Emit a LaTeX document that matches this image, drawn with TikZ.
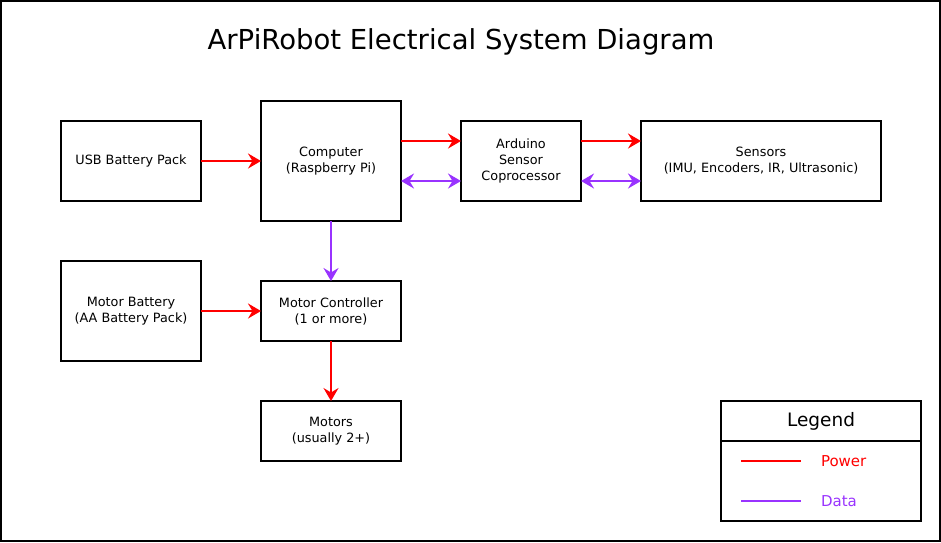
\documentclass[tikz,border=0pt]{standalone}
\usepackage{fontspec}
\setmainfont{DejaVu Sans}
\usetikzlibrary{arrows.meta}
\definecolor{power}{HTML}{FF0000}
\definecolor{data}{HTML}{9933FF}
\begin{document}
\begin{tikzpicture}[x=1pt, y=-1pt]
        \tikzstyle{every node}=[inner sep=0pt, outer sep=0pt]
        \tikzstyle{block}=[draw, line width=2pt, align=center, font=\fontsize{12.8}{16}\selectfont]
        \tikzstyle{pwr}=[draw=power, line width=2pt, -{Stealth[length=13pt, width=15pt, inset=4.5pt]}]
        \tikzstyle{dat}=[draw=data, line width=2pt, -{Stealth[length=13pt, width=15pt, inset=4.5pt]}]
        \tikzstyle{datboth}=[dat, {Stealth[length=13pt, width=15pt, inset=4.5pt]}-{Stealth[length=13pt, width=15pt, inset=4.5pt]}]
        \useasboundingbox (0,0) rectangle (941,542);
        \draw[line width=2pt] (1,1) rectangle (940,541);
        \node [anchor=base] (title) at (461,49) {\fontsize{27.5}{32}\selectfont ArPiRobot Electrical System Diagram};
        % blocks
        \node [block, minimum width=140, minimum height=80] (usb) at (131,161) {USB Battery Pack};
        \node [block, minimum width=140, minimum height=120] (pi) at (331,161) {Computer\\(Raspberry Pi)};
        \node [block, minimum width=120, minimum height=80] (ard) at (521,161) {Arduino\\Sensor\\Coprocessor};
        \node [block, minimum width=240, minimum height=80] (sens) at (761,161) {Sensors\\(IMU, Encoders, IR, Ultrasonic)};
        \node [block, minimum width=140, minimum height=100] (mbat) at (131,311) {Motor Battery\\(AA Battery Pack)};
        \node [block, minimum width=140, minimum height=60] (mctl) at (331,311) {Motor Controller\\(1 or more)};
        \node [block, minimum width=140, minimum height=60] (motors) at (331,431) {Motors\\(usually 2+)};
        % connections
        \draw [pwr] (usb.east) -- (pi.west);
        \draw [pwr] ([yshift=20]pi.east) -- ([yshift=20]ard.west);
        \draw [datboth] ([yshift=-20]pi.east) -- ([yshift=-20]ard.west);
        \draw [pwr] ([yshift=20]ard.east) -- ([yshift=20]sens.west);
        \draw [datboth] ([yshift=-20]ard.east) -- ([yshift=-20]sens.west);
        \draw [dat] (pi.south) -- (mctl.north);
        \draw [pwr] (mbat.east) -- (mctl.west);
        \draw [pwr] (mctl.south) -- (motors.north);
        % legend
        \node [block, minimum width=200, minimum height=40, font=\fontsize{18.5}{22}\selectfont] (leghead) at (821,421) {Legend};
        \node [block, minimum width=200, minimum height=80, anchor=north] (legbody) at (leghead.south) {};
        \coordinate (pwra) at (741,461);
        \coordinate (pwrb) at (801,461);
        \coordinate (data) at (741,501);
        \coordinate (datb) at (801,501);
        \draw [draw=power, line width=2pt] (pwra) -- (pwrb);
        \draw [draw=data, line width=2pt] (data) -- (datb);
        \node [anchor=west, text=power, font=\fontsize{15}{18}\selectfont] (pwrlabel) at (821,461) {Power};
        \node [anchor=west, text=data, font=\fontsize{15}{18}\selectfont] (datlabel) at (821,501) {Data};
\end{tikzpicture}
\end{document}
